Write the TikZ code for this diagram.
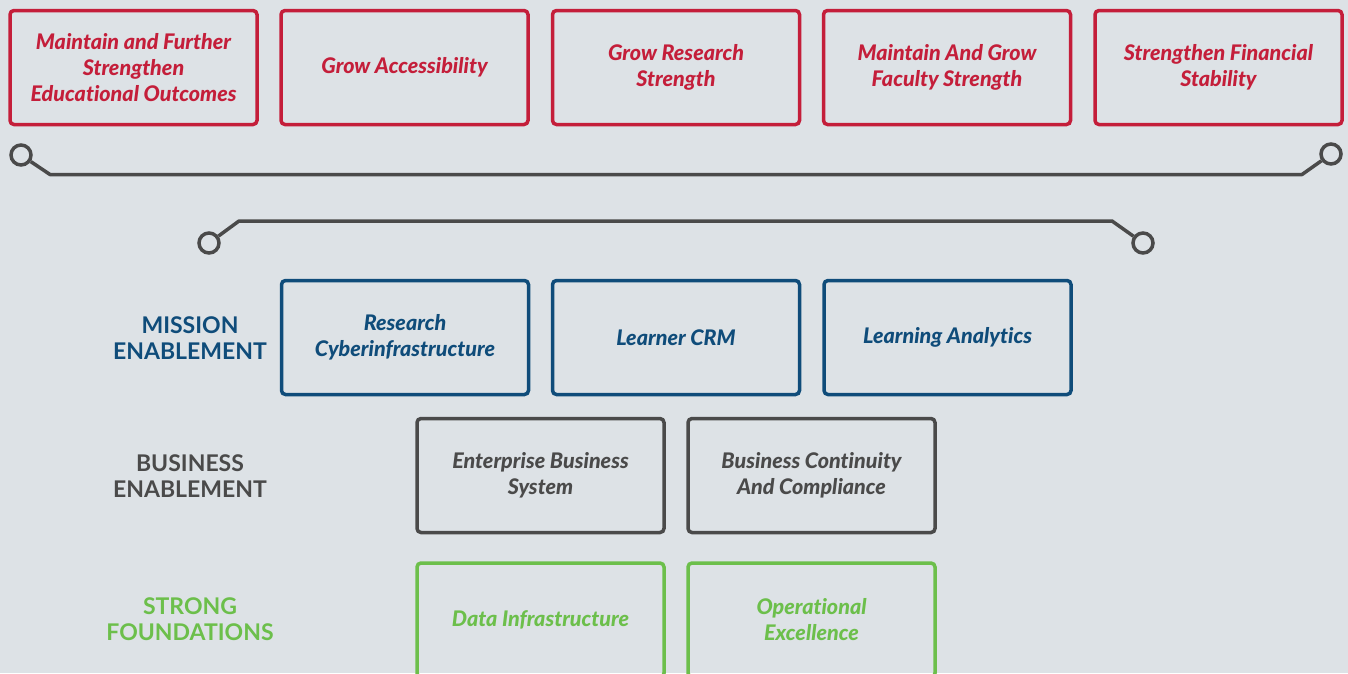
\documentclass[tikz,border=0pt]{standalone}
\usepackage{fontspec}
\newfontfamily\boxfont{Lato}[BoldFont={* Black}, BoldItalicFont={* Black Italic}, RawFeature=-liga]
\newfontfamily\tierfont{Lato}
\definecolor{bg}{HTML}{DDE2E6}
\definecolor{goalred}{HTML}{C41E3A}
\definecolor{missblue}{HTML}{0F4C7A}
\definecolor{busgray}{HTML}{4A4A4A}
\definecolor{fndgreen}{HTML}{6CBF4B}
\definecolor{linkgray}{HTML}{4A4A4A}
\begin{document}
\begin{tikzpicture}[x=1pt,y=-1pt,
  card/.style={draw, rounded corners=4pt, line width=3.5pt, minimum width=247pt,
    minimum height=114pt, align=center, inner sep=0pt,
    font=\boxfont\bfseries\itshape\fontsize{21.5}{26}\selectfont},
  goal/.style={card, draw=goalred, text=goalred},
  mission/.style={card, draw=missblue, text=missblue},
  business/.style={card, draw=busgray, text=busgray},
  found/.style={card, draw=fndgreen, text=fndgreen},
  tier/.style={align=center, inner sep=0pt,
    font=\tierfont\bfseries\fontsize{23}{26}\selectfont},
  ring/.style={circle, draw=linkgray, line width=3.5pt, minimum size=20pt, inner sep=0pt},
  link/.style={draw=linkgray, line width=3.5pt, line join=round}]
\fill[bg] (0,0) rectangle (1348,673);
\useasboundingbox (0,0) rectangle (1348,673);
\begin{scope}
\clip (0,0) rectangle (1348,673);

% strategic goals
\node[goal] (g1) at (133.5,67.5) {Maintain and Further\\Strengthen\\Educational Outcomes};
\node[goal] (g2) at (404.5,67.5) {Grow Accessibility};
\node[goal] (g3) at (676,67.5) {Grow Research\\Strength};
\node[goal] (g4) at (947,67.5) {Maintain And Grow\\Faculty Strength};
\node[goal] (g5) at (1218.5,67.5) {Strengthen Financial\\Stability};

% upper bracket
\node[ring] (r1) at (21,155) {};
\node[ring] (r2) at (1331,154) {};
\coordinate (b1) at (50,174.5);
\coordinate (b2) at (1302,174.5);
\draw[link] (r1) -- (b1) -- (b2) -- (r2);

% lower bracket
\node[ring] (r3) at (209,243) {};
\node[ring] (r4) at (1143,243) {};
\coordinate (b3) at (239,221);
\coordinate (b4) at (1112,221);
\draw[link] (r3) -- (b3) -- (b4) -- (r4);

% tier labels
\node[tier, text=missblue] (t1) at (190,338) {MISSION\\ENABLEMENT};
\node[tier, text=busgray] (t2) at (190,476) {BUSINESS\\ENABLEMENT};
\node[tier, text=fndgreen] (t3) at (190,619) {STRONG\\FOUNDATIONS};

% mission enablement
\node[mission] (m1) at (405,337.5) {Research\\Cyberinfrastructure};
\node[mission] (m2) at (676,337.5) {Learner CRM};
\node[mission] (m3) at (947.5,337.5) {Learning Analytics};

% business enablement
\node[business] (e1) at (540.5,475.5) {Enterprise Business\\System};
\node[business] (e2) at (811.5,475.5) {Business Continuity\\And Compliance};

% strong foundations
\node[found] (f1) at (540.5,620) {Data Infrastructure};
\node[found] (f2) at (811.5,620) {Operational\\Excellence};
\end{scope}
\end{tikzpicture}
\end{document}
